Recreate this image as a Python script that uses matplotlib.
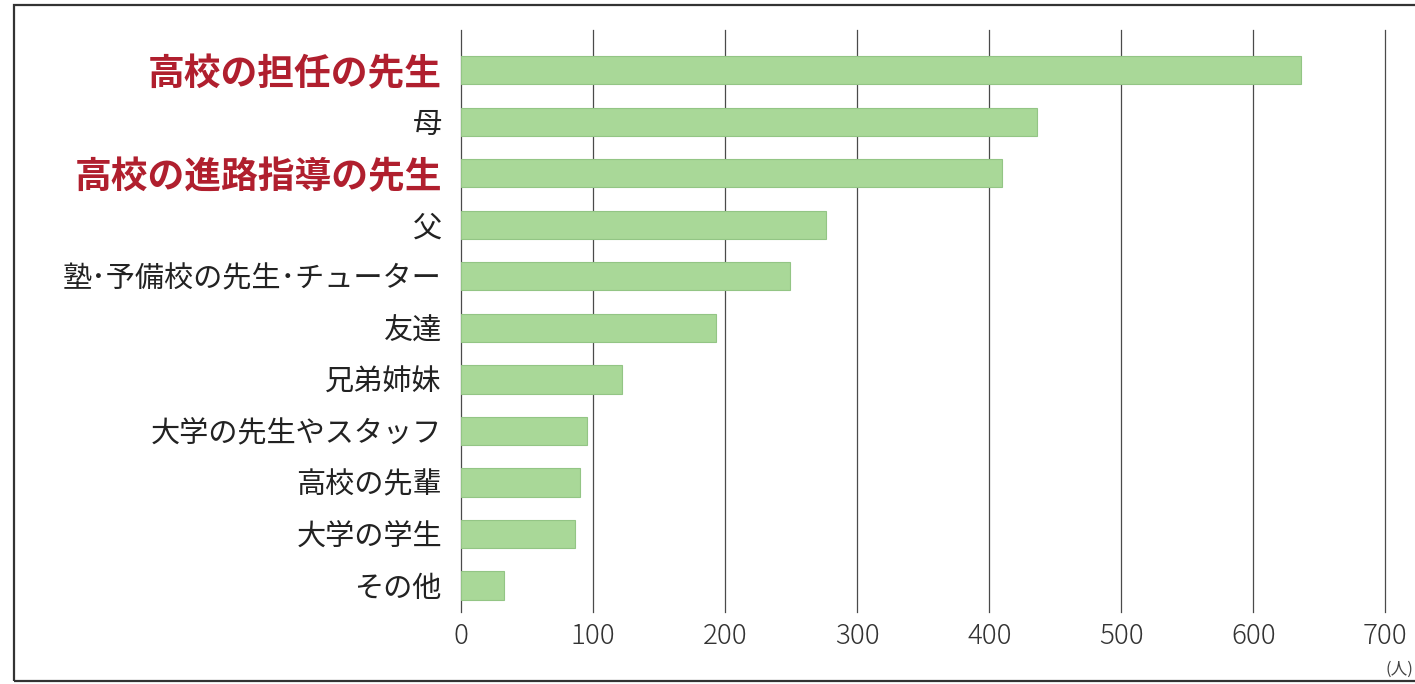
import matplotlib
matplotlib.use("Agg")
import matplotlib.pyplot as plt
from matplotlib.patches import Rectangle

plt.rcParams['font.family'] = ['Noto Sans CJK JP', 'DejaVu Sans']

categories = ["高校の担任の先生", "母", "高校の進路指導の先生", "父",
              "塾･予備校の先生･チューター", "友達", "兄弟姉妹",
              "大学の先生やスタッフ", "高校の先輩", "大学の学生", "その他"]
values = [636, 436, 410, 276, 249, 193, 122, 95, 90, 86, 32]
highlight = ["高校の担任の先生", "高校の進路指導の先生"]
xticks = [0, 100, 200, 300, 400, 500, 600, 700]
unit_label = "(人)"

fig = plt.figure(figsize=(14.15, 6.84), dpi=100)
# outer frame
fig.patches.append(Rectangle((0.010, 0.004), 1.2, 0.988, transform=fig.transFigure,
                             fill=False, edgecolor="#333333", linewidth=1.6))

ax = fig.add_axes([0.326, 0.105, 0.653, 0.851])
y = list(range(len(categories)))
ax.barh(y, values, height=0.55, color="#a9d898", edgecolor="#93c585", linewidth=0.8, zorder=3)
ax.set_xlim(0, 700)
ax.set_ylim(10.52, -0.78)
for s in ax.spines.values():
    s.set_visible(False)
for t in xticks:
    ax.axvline(t, color="#4a4a4a", linewidth=0.9, zorder=1, clip_on=False)
ax.set_xticks(xticks)
ax.set_xticklabels([str(t) for t in xticks], fontsize=20, color="#333333",
                   fontweight="light")
ax.tick_params(axis="x", length=0, pad=7)
ax.set_yticks(y)
ax.set_yticklabels(categories)
ax.tick_params(axis="y", length=0, pad=14)
for lbl in ax.get_yticklabels():
    if lbl.get_text() in highlight:
        lbl.set_color("#b01f2e")
        lbl.set_fontweight("bold")
        lbl.set_fontsize(26.5)
    else:
        lbl.set_color("#222222")
        lbl.set_fontsize(21)
ax.text(1.0, -0.098, unit_label, transform=ax.transAxes, fontsize=12,
        color="#444444", ha="left", va="center")

fig.savefig("out.png", dpi=100)
